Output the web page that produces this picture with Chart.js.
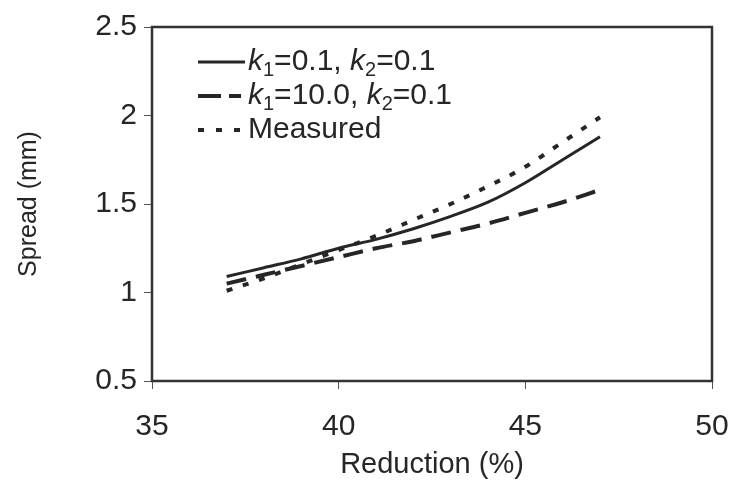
<!DOCTYPE html>
<html>
<head>
<meta charset="utf-8">
<script src="https://cdn.jsdelivr.net/npm/chart.js@4.4.1/dist/chart.umd.min.js"></script>
<style>
  html, body { margin: 0; padding: 0; background: #fff; }
  #wrap { width: 733px; height: 488px; }
</style>
</head>
<body>
<div id="wrap"><canvas id="spreadChart" width="733" height="488"></canvas></div>
<script>
// values
const reduction = [37, 38, 39, 40, 41, 42, 43, 44, 45, 46, 47];
const spreadK01 = [1.09, 1.14, 1.19, 1.25, 1.30, 1.36, 1.43, 1.51, 1.62, 1.75, 1.88];
const spreadK10 = [1.05, 1.10, 1.15, 1.20, 1.25, 1.29, 1.34, 1.39, 1.45, 1.51, 1.58];
const measured = [1.01, 1.08, 1.16, 1.24, 1.32, 1.41, 1.50, 1.60, 1.71, 1.85, 1.99];

const xTicks = [35, 40, 45, 50];
const yTicks = [0.5, 1, 1.5, 2, 2.5];

const ink = "#262626";
const font = "'Liberation Sans', Arial, sans-serif";

function pts(ys) {
  return reduction.map((x, i) => ({ x: x, y: ys[i] }));
}

// legend rows: sample dash + label pieces (k italic, index as subscript)
const legendRows = [
  { dash: [], width: 3, parts: [["k", "i"], ["1", "s"], ["=0.1, ", ""], ["k", "i"], ["2", "s"], ["=0.1", ""]] },
  { dash: [23, 8, 12, 100], width: 4, parts: [["k", "i"], ["1", "s"], ["=10.0, ", ""], ["k", "i"], ["2", "s"], ["=0.1", ""]] },
  { dash: [6, 12], width: 4, parts: [["Measured", ""]] }
];

const frameAndLegend = {
  id: "frameAndLegend",
  afterDraw(chart) {
    const ctx = chart.ctx;
    const a = chart.chartArea;
    ctx.save();
    ctx.strokeStyle = "#333";
    ctx.lineWidth = 2.5;
    ctx.strokeRect(a.left, a.top, a.right - a.left, a.bottom - a.top);

    let y = 62;
    legendRows.forEach(row => {
      ctx.setLineDash(row.dash);
      ctx.lineWidth = row.width;
      ctx.strokeStyle = ink;
      ctx.beginPath();
      ctx.moveTo(198, y);
      ctx.lineTo(245, y);
      ctx.stroke();
      ctx.setLineDash([]);
      let x = 248;
      ctx.fillStyle = ink;
      ctx.textBaseline = "middle";
      row.parts.forEach(p => {
        if (p[1] === "s") {
          ctx.font = "20px " + font;
          ctx.fillText(p[0], x, y + 8);
        } else {
          ctx.font = (p[1] === "i" ? "italic " : "") + "30px " + font;
          ctx.fillText(p[0], x, y);
        }
        x += ctx.measureText(p[0]).width;
      });
      y += 34;
    });
    ctx.restore();
  }
};

new Chart(document.getElementById("spreadChart"), {
  type: "line",
  data: {
    datasets: [
      { data: pts(spreadK01), borderColor: ink, borderWidth: 3, borderDash: [] },
      { data: pts(spreadK10), borderColor: ink, borderWidth: 4, borderDash: [20, 10] },
      { data: pts(measured), borderColor: ink, borderWidth: 4, borderDash: [6, 11] }
    ]
  },
  options: {
    responsive: false,
    animation: false,
    layout: { autoPadding: false, padding: { left: 0, right: 21, top: 27, bottom: 0 } },
    elements: {
      point: { radius: 0 },
      line: { tension: 0.4, cubicInterpolationMode: "monotone", fill: false }
    },
    plugins: { legend: { display: false }, tooltip: { enabled: false } },
    scales: {
      x: {
        type: "linear",
        min: 35,
        max: 50,
        afterFit(s) { s.height = 107; s.paddingLeft = 0; s.paddingRight = 0; },
        afterBuildTicks(s) { s.ticks = xTicks.map(v => ({ value: v })); },
        grid: { drawOnChartArea: false, drawTicks: true, tickLength: 8, tickColor: "#555" },
        border: { display: false },
        ticks: { color: ink, padding: 20, maxRotation: 0, font: { family: font, size: 30 } },
        title: {
          display: true,
          text: "Reduction (%)",
          color: ink,
          padding: { top: 0, bottom: 6 },
          font: { family: font, size: 29 }
        }
      },
      y: {
        type: "linear",
        min: 0.5,
        max: 2.5,
        afterFit(s) { s.width = 152; s.paddingTop = 0; s.paddingBottom = 0; },
        afterBuildTicks(s) { s.ticks = yTicks.map(v => ({ value: v })); },
        grid: { drawOnChartArea: false, drawTicks: true, tickLength: 8, tickColor: "#555" },
        border: { display: false },
        ticks: {
          color: ink,
          padding: 7,
          font: { family: font, size: 30 },
          callback: v => String(v)
        },
        title: {
          display: true,
          text: "Spread (mm)",
          color: ink,
          padding: { top: 14, bottom: 0 },
          font: { family: font, size: 25 }
        }
      }
    }
  },
  plugins: [frameAndLegend]
});
</script>
</body>
</html>
